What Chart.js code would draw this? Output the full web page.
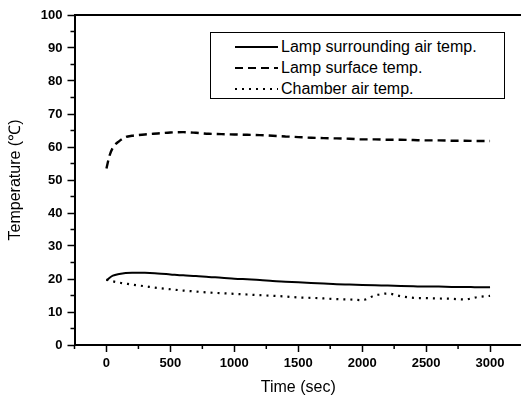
<!DOCTYPE html>
<html>
<head>
<meta charset="utf-8">
<script src="https://cdn.jsdelivr.net/npm/chart.js@4/dist/chart.umd.min.js"></script>
<style>
  html, body { margin: 0; padding: 0; background: #fff; overflow: hidden; }
  #wrap { position: relative; width: 526px; height: 399px; }
  #legend { position: absolute; left: 210px; top: 32px; width: 295px; height: 67px;
            border: 1.5px solid #000; background: #fff; box-sizing: border-box; }
  .row { position: absolute; left: 24px; height: 20px; display: flex; align-items: center;
         font: 16px "Liberation Sans", Arial, sans-serif; color: #000; white-space: nowrap; }
  .row svg { margin-right: 2px; }
</style>
</head>
<body>
<div id="wrap">
  <canvas id="temp_chart"></canvas>
  <div id="legend"></div>
</div>
<script>
// time (sec)
var times = [0, 25, 50, 100, 150, 200, 300, 400, 500, 600, 700, 800, 900, 1000,
             1100, 1200, 1300, 1400, 1500, 1600, 1700, 1800, 1900, 2000,
             2100, 2200, 2300, 2400, 2500, 2600, 2700, 2800, 2900, 3000];

// Lamp surrounding air temp.
var surroundingAir = [19.5, 20.4, 21.0, 21.5, 21.8, 21.9, 21.9, 21.7, 21.4, 21.1, 20.9, 20.6, 20.4, 20.1,
                      19.9, 19.7, 19.4, 19.2, 19.0, 18.8, 18.6, 18.4, 18.3, 18.2,
                      18.1, 18.0, 17.9, 17.8, 17.7, 17.7, 17.6, 17.6, 17.5, 17.5];

// Lamp surface temp.
var surfaceTemp = [53.5, 57.5, 59.8, 61.8, 63.0, 63.4, 63.8, 64.1, 64.4, 64.5, 64.3, 64.0, 63.9, 63.8,
                   63.7, 63.6, 63.4, 63.2, 63.0, 62.8, 62.7, 62.6, 62.5, 62.3,
                   62.3, 62.2, 62.2, 62.1, 62.0, 62.0, 61.9, 61.9, 61.8, 61.8];

// Chamber air temp.
var chamberAir = [19.8, 19.6, 19.3, 18.9, 18.6, 18.3, 17.8, 17.3, 16.9, 16.5, 16.2, 15.9, 15.7, 15.5,
                  15.3, 15.1, 14.9, 14.7, 14.4, 14.3, 14.1, 13.9, 13.8, 13.6,
                  15.0, 15.6, 14.8, 14.3, 14.2, 14.1, 14.0, 13.8, 14.5, 14.9];

var seriesNames = ['Lamp surrounding air temp.', 'Lamp surface temp.', 'Chamber air temp.'];

var FONT = '"Liberation Sans", Arial, sans-serif';

function pts(vals) {
    return times.map(function (t, i) { return {x: t, y: vals[i]}; });
}

// minor ticks + top frame line
var frame = {
    id: 'frame',
    afterDraw(chart) {
        var ctx = chart.ctx, a = chart.chartArea, sx = chart.scales.x, sy = chart.scales.y;
        ctx.save();
        ctx.strokeStyle = '#000';
        ctx.lineWidth = 1.5;
        ctx.beginPath();
        sx.ticks.forEach(function (t) {
            if (t.value % 500 !== 0) {
                var px = sx.getPixelForValue(t.value);
                ctx.moveTo(px, a.bottom); ctx.lineTo(px, a.bottom + 4);
            }
        });
        sy.ticks.forEach(function (t) {
            if (t.value % 10 !== 0) {
                var py = sy.getPixelForValue(t.value);
                ctx.moveTo(a.left, py); ctx.lineTo(a.left - 4, py);
            }
        });
        ctx.stroke();
        ctx.lineWidth = 2;
        ctx.beginPath();
        ctx.moveTo(a.left, a.top); ctx.lineTo(a.right + 5, a.top);
        ctx.stroke();
        ctx.restore();
    }
};

var ctxEl = document.getElementById('temp_chart');
var chart = new Chart(ctxEl, {
    type: 'line',
    data: {
        datasets: [
            {label: seriesNames[0], data: pts(surroundingAir), borderColor: '#000', borderWidth: 2, borderDash: []},
            {label: seriesNames[1], data: pts(surfaceTemp), borderColor: '#000', borderWidth: 2.4, borderDash: [8, 5]},
            {label: seriesNames[2], data: pts(chamberAir), borderColor: '#000', borderWidth: 2.2, borderDash: [2, 5]}
        ]
    },
    options: {
        responsive: true,
        maintainAspectRatio: false,
        animation: false,
        layout: {padding: {top: 15, right: 3, left: 0, bottom: 0}},
        elements: {point: {radius: 0}, line: {cubicInterpolationMode: 'monotone', fill: false}},
        plugins: {legend: {display: false}, tooltip: {enabled: false}},
        scales: {
            x: {
                type: 'linear', min: -250, max: 3250,
                ticks: {
                    stepSize: 250, autoSkip: false, maxRotation: 0, padding: 4, color: '#000',
                    font: {family: FONT, size: 13, weight: 'bold'},
                    callback: function (v) { return v % 500 === 0 ? String(v) : ''; }
                },
                grid: {
                    drawOnChartArea: false, tickLength: 7, tickWidth: 1.5,
                    tickColor: function (c) { return c.tick && c.tick.value % 500 === 0 ? '#000' : 'rgba(0,0,0,0)'; }
                },
                border: {color: '#000', width: 2},
                title: {display: true, text: 'Time (sec)', color: '#000',
                        font: {family: FONT, size: 16}, padding: {top: 0, bottom: 1.5}},
                afterFit: function (s) { s.height = 54; }
            },
            y: {
                min: 0, max: 100,
                ticks: {
                    stepSize: 5, autoSkip: false, padding: 5, color: '#000',
                    font: {family: FONT, size: 13, weight: 'bold'},
                    callback: function (v) { return v % 10 === 0 ? String(v) : ''; }
                },
                grid: {
                    drawOnChartArea: false, tickLength: 7, tickWidth: 1.5,
                    tickColor: function (c) { return c.tick && c.tick.value % 10 === 0 ? '#000' : 'rgba(0,0,0,0)'; }
                },
                border: {color: '#000', width: 2},
                title: {display: true, text: 'Temperature (℃)', color: '#000',
                        font: {family: FONT, size: 16}, padding: {top: 5.5, bottom: 0}},
                afterFit: function (s) { s.width = 74.5; }
            }
        }
    },
    plugins: [frame]
});

// legend box built from the datasets
var legend = document.getElementById('legend');
chart.data.datasets.forEach(function (ds, i) {
    var row = document.createElement('div');
    row.className = 'row';
    row.style.top = (4 + i * 21) + 'px';
    var dash = ds.borderDash.length ? ds.borderDash.join(' ') : 'none';
    row.innerHTML = '<svg width="44" height="6"><line x1="0" y1="3" x2="43" y2="3" stroke="#000" stroke-width="' +
        Math.min(ds.borderWidth, 2) + '" stroke-dasharray="' + dash + '"/></svg><span>' + ds.label + '</span>';
    legend.appendChild(row);
});
</script>
</body>
</html>
